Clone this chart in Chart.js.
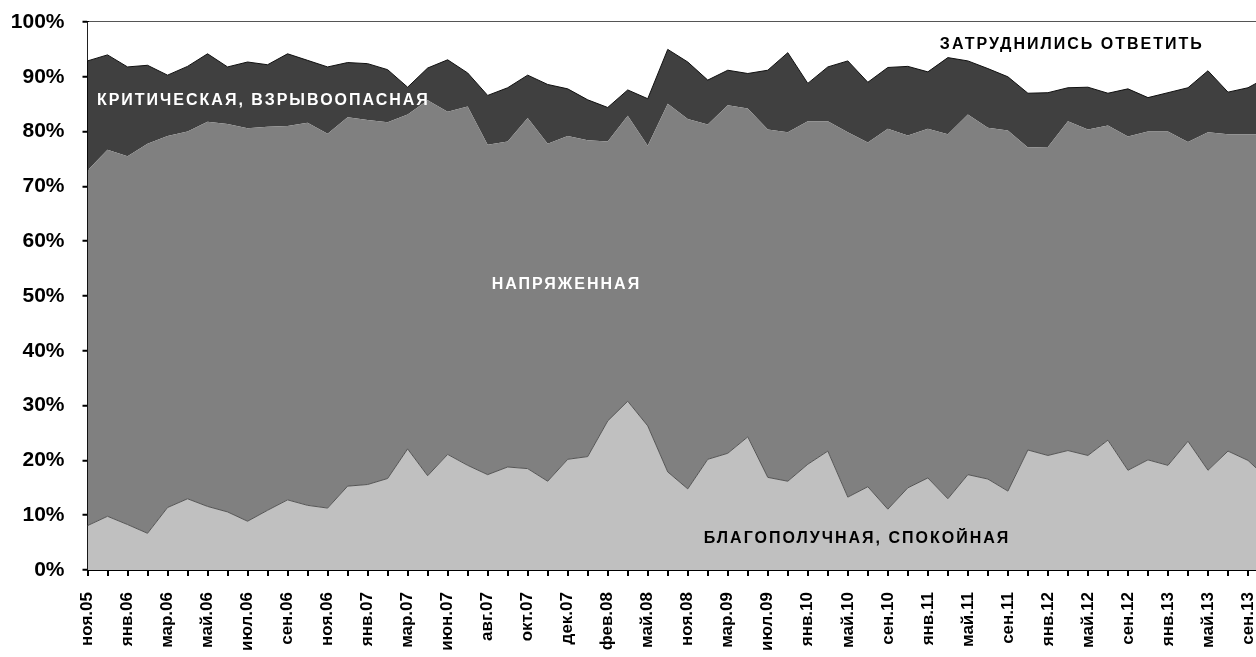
<!DOCTYPE html>
<html lang="ru">
<head>
<meta charset="UTF-8">
<title>Оценка ситуации в стране</title>
<script src="https://cdn.jsdelivr.net/npm/chart.js"></script>
<style>
    html, body {
        margin: 0;
        background: #fff;
        overflow: hidden;
        font-family: "Liberation Sans", Arial, sans-serif;
    }

    .chart-box {
        width: 1256px;
        height: 657px;
    }
</style>
</head>
<body>

<div class="chart-box">
    <canvas id="chart"></canvas>
</div>

<script>
    // survey waves, only every other one is labelled on the axis
    const months = [
        'ноя.05', '', 'янв.06', '', 'мар.06', '', 'май.06', '', 'июл.06', '',
        'сен.06', '', 'ноя.06', '', 'янв.07', '', 'мар.07', '', 'июн.07', '',
        'авг.07', '', 'окт.07', '', 'дек.07', '', 'фев.08', '', 'май.08', '',
        'ноя.08', '', 'мар.09', '', 'июл.09', '', 'янв.10', '', 'май.10', '',
        'сен.10', '', 'янв.11', '', 'май.11', '', 'сен.11', '', 'янв.12', '',
        'май.12', '', 'сен.12', '', 'янв.13', '', 'май.13', '', 'сен.13', ''
    ];

    const calm = [
        8.1, 9.8, 8.3, 6.7, 11.4, 13.0, 11.6, 10.6, 8.9, 10.9,
        12.8, 11.8, 11.3, 15.3, 15.6, 16.7, 22.1, 17.2, 21.1, 19.1,
        17.4, 18.8, 18.5, 16.2, 20.2, 20.7, 27.2, 30.8, 26.3, 17.9,
        14.8, 20.2, 21.3, 24.3, 16.9, 16.2, 19.3, 21.7, 13.3, 15.2,
        11.1, 15.0, 16.8, 13.0, 17.4, 16.6, 14.4, 21.9, 20.9, 21.8,
        20.9, 23.7, 18.2, 20.1, 19.1, 23.5, 18.2, 21.7, 20.0, 16.6
    ];

    const tense = [
        64.8, 66.9, 67.2, 71.1, 67.8, 67.0, 70.2, 70.8, 71.7, 70.0,
        68.2, 69.8, 68.3, 67.3, 66.5, 65.0, 61.0, 68.5, 62.5, 65.5,
        60.2, 59.4, 64.0, 61.6, 59.0, 57.7, 51.0, 52.1, 51.1, 67.2,
        67.5, 61.1, 63.5, 59.9, 63.5, 63.7, 62.6, 60.2, 66.6, 62.8,
        69.4, 64.3, 63.7, 66.5, 65.7, 64.1, 65.8, 55.2, 56.3, 60.1,
        59.5, 57.4, 60.9, 59.9, 60.9, 54.6, 61.7, 57.8, 59.5, 62.9
    ];

    const critical = [
        20.0, 17.3, 16.3, 14.3, 11.1, 11.9, 12.4, 10.4, 12.1, 11.3,
        13.2, 11.4, 12.2, 10.0, 10.3, 9.6, 5.0, 5.9, 9.5, 6.1,
        9.0, 9.8, 7.8, 10.8, 8.6, 7.4, 6.2, 4.7, 8.6, 9.9,
        10.4, 8.1, 6.4, 6.4, 10.8, 14.5, 6.9, 9.9, 13.0, 11.0,
        11.2, 12.6, 10.4, 14.0, 9.8, 10.8, 9.8, 9.9, 9.9, 6.1,
        7.7, 5.9, 8.7, 6.2, 7.1, 9.9, 11.2, 7.7, 8.5, 10.5
    ];

    const noAnswer = [
        7.1, 6.0, 8.2, 7.9, 9.7, 8.1, 5.8, 8.2, 7.3, 7.8,
        5.8, 7.0, 8.2, 7.4, 7.6, 8.7, 11.9, 8.4, 6.9, 9.3,
        13.4, 12.0, 9.7, 11.4, 12.2, 14.2, 15.6, 12.4, 14.0, 5.0,
        7.3, 10.6, 8.8, 9.4, 8.8, 5.6, 11.2, 8.2, 7.1, 11.0,
        8.3, 8.1, 9.1, 6.5, 7.1, 8.5, 10.0, 13.0, 12.9, 12.0,
        11.9, 13.0, 12.2, 13.8, 12.9, 12.0, 8.9, 12.8, 12.0, 10.0
    ];

    // captions written inside the areas (x in wave index, y in %)
    const areaLabels = [
        { text: 'КРИТИЧЕСКАЯ, ВЗРЫВООПАСНАЯ', at: 0.47, level: 85.7, color: '#fff' },
        { text: 'НАПРЯЖЕННАЯ', at: 20.2, level: 52.0, color: '#fff' },
        { text: 'ЗАТРУДНИЛИСЬ ОТВЕТИТЬ', at: 42.6, level: 95.9, color: '#000' },
        { text: 'БЛАГОПОЛУЧНАЯ, СПОКОЙНАЯ', at: 30.8, level: 5.75, color: '#000' }
    ];

    const areaLabelPlugin = {
        id: 'areaLabels',
        afterDatasetsDraw(chart) {
            const { ctx, scales: { x, y } } = chart;
            ctx.save();
            ctx.font = 'bold 16px "Liberation Sans", Arial, sans-serif';
            ctx.letterSpacing = '2px';
            ctx.textAlign = 'left';
            ctx.textBaseline = 'middle';
            areaLabels.forEach(l => {
                ctx.fillStyle = l.color;
                ctx.fillText(l.text, x.getPixelForValue(l.at), y.getPixelForValue(l.level));
            });
            ctx.restore();
        }
    };

    const axisFont = { family: '"Liberation Sans", Arial, sans-serif', weight: 'bold' };

    new Chart(document.getElementById('chart'), {
        type: 'line',
        data: {
            labels: months.map((m, i) => i),
            datasets: [
                {
                    label: 'БЛАГОПОЛУЧНАЯ, СПОКОЙНАЯ',
                    data: calm,
                    backgroundColor: '#c0c0c0',
                    borderColor: '#555',
                    borderWidth: 1,
                    fill: 'origin'
                },
                {
                    label: 'НАПРЯЖЕННАЯ',
                    data: tense,
                    backgroundColor: '#808080',
                    borderColor: '#808080',
                    borderWidth: 0,
                    fill: '-1'
                },
                {
                    label: 'КРИТИЧЕСКАЯ, ВЗРЫВООПАСНАЯ',
                    data: critical,
                    backgroundColor: '#404040',
                    borderColor: '#111',
                    borderWidth: 1,
                    fill: '-1'
                },
                {
                    label: 'ЗАТРУДНИЛИСЬ ОТВЕТИТЬ',
                    data: noAnswer,
                    backgroundColor: '#fff',
                    borderColor: '#fff',
                    borderWidth: 0,
                    fill: '-1'
                }
            ]
        },
        options: {
            responsive: true,
            maintainAspectRatio: false,
            animation: false,
            layout: { padding: { left: 10, right: 0, top: 22, bottom: 0 } },
            elements: {
                point: { radius: 0 },
                line: { tension: 0 }
            },
            plugins: {
                legend: { display: false },
                tooltip: { enabled: false }
            },
            scales: {
                x: {
                    type: 'linear',
                    min: 0,
                    max: 58.4,   // the original picture is cut here
                    grid: { drawOnChartArea: false, tickLength: 6, color: '#000', lineWidth: 2 },
                    border: { color: '#000', width: 2 },
                    ticks: {
                        stepSize: 1,
                        autoSkip: false,
                        includeBounds: false,
                        minRotation: 90,
                        maxRotation: 90,
                        padding: 16,
                        color: '#000',
                        font: { ...axisFont, size: 17 },
                        callback: v => months[v] || ''
                    },
                    afterFit: s => {
                        s.height = 87;
                        s.paddingLeft = 0;
                        s.paddingRight = 0;
                    }
                },
                y: {
                    stacked: true,
                    min: 0,
                    max: 100,
                    grid: {
                        drawOnChartArea: true,
                        tickLength: 5,
                        tickColor: '#000',
                        tickWidth: 2,
                        lineWidth: 1.5,
                        // only the top frame line is drawn across the plot
                        color: c => c.tick && c.tick.value === 100 ? '#555' : 'rgba(0,0,0,0)'
                    },
                    border: { color: '#000', width: 2 },
                    ticks: {
                        stepSize: 10,
                        padding: 18,
                        color: '#000',
                        font: { ...axisFont, size: 21 },
                        callback: v => v + '%'
                    },
                    afterFit: s => {
                        s.width = 77.5;
                        s.paddingTop = 0;
                        s.paddingBottom = 0;
                    }
                }
            }
        },
        plugins: [areaLabelPlugin]
    });
</script>

</body>
</html>
